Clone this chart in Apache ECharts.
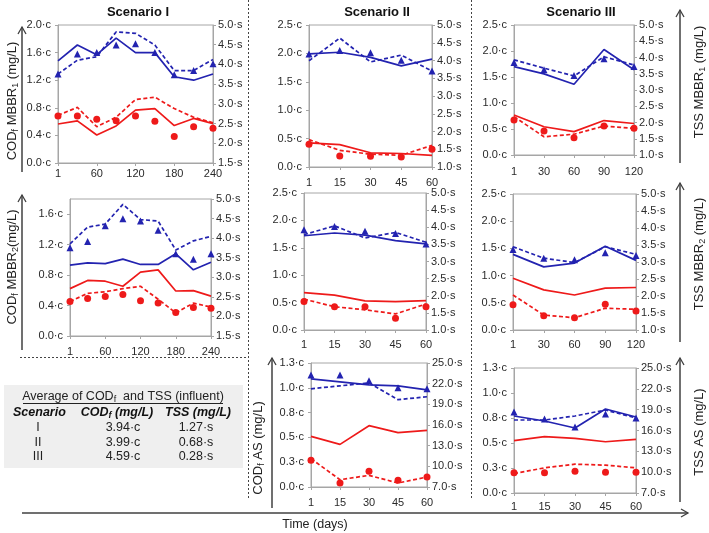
<!DOCTYPE html>
<html>
<head>
<meta charset="utf-8">
<script src="https://cdn.jsdelivr.net/npm/echarts@6/dist/echarts.min.js"></script>
<style>
    html, body { margin: 0; padding: 0; background: #fff; }
    #chart { width: 709px; height: 533px; }
</style>
</head>
<body>
<div id="chart"></div>
<script>
// x categories (days)
var daysI = ['1', '30', '60', '90', '120', '150', '180', '210', '240'];
var daysII = ['1', '15', '30', '45', '60'];
var daysIII = ['1', '30', '60', '90', '120'];
var daysAS = ['1', '15', '30', '45', '60'];

// tick labels for the AS right axes
var ticksAS = [7, 10, 13, 16, 19, 22, 25];

// Scenario I - MBBR1 (blue on left axis, red on right axis)
var blueLineI1 = [1.48, 1.71, 1.57, 1.81, 1.60, 1.60, 1.25, 1.20, 1.29];
var blueDashI1 = [1.29, 1.49, 1.54, 1.90, 1.88, 1.71, 1.34, 1.34, 1.50];
var blueTriI1  = [1.29, 1.58, 1.60, 1.71, 1.73, 1.60, 1.28, 1.34, 1.44];
var redLineI1  = [2.49, 2.57, 2.21, 2.44, 2.84, 2.88, 2.45, 2.63, 2.50];
var redDashI1  = [2.71, 2.91, 2.42, 2.66, 3.11, 3.17, 2.88, 2.66, 2.52];
var redDotI1   = [2.69, 2.69, 2.61, 2.57, 2.69, 2.56, 2.17, 2.42, 2.38];

// Scenario I - MBBR2
var blueLineI2 = [0.93, 0.96, 0.95, 1.01, 0.94, 0.94, 1.08, 0.87, 0.97];
var blueDashI2 = [1.21, 1.43, 1.47, 1.73, 1.53, 1.51, 1.13, 1.25, 1.31];
var blueTriI2  = [1.16, 1.24, 1.45, 1.54, 1.51, 1.39, 1.08, 1.01, 1.08];
var redLineI2  = [2.71, 2.92, 2.90, 2.77, 3.13, 3.19, 2.65, 2.66, 2.52];
var redDashI2  = [2.38, 2.59, 2.63, 2.71, 2.77, 2.44, 2.09, 2.34, 2.24];
var redDotI2   = [2.38, 2.46, 2.51, 2.56, 2.40, 2.34, 2.10, 2.23, 2.21];

// Scenario II - MBBR1
var blueLineII1 = [1.99, 2.02, 1.93, 1.78, 1.90];
var blueDashII1 = [1.87, 2.27, 1.85, 1.97, 1.69];
var blueTriII1  = [1.99, 2.05, 2.01, 1.88, 1.69];
var redLineII1  = [1.68, 1.63, 1.40, 1.38, 1.33];
var redDashII1  = [1.77, 1.47, 1.36, 1.33, 1.61];
var redDotII1   = [1.64, 1.31, 1.30, 1.28, 1.50];

// Scenario II - MBBR2
var blueLineII2 = [1.72, 1.77, 1.73, 1.63, 1.57];
var blueDashII2 = [1.74, 1.90, 1.68, 1.78, 1.60];
var blueTriII2  = [1.83, 1.89, 1.80, 1.76, 1.57];
var redLineII2  = [2.09, 2.02, 1.85, 1.83, 1.86];
var redDashII2  = [1.90, 1.68, 1.59, 1.47, 1.76];
var redDotII2   = [1.83, 1.68, 1.68, 1.34, 1.68];

// Scenario II - AS
var blueLineII3 = [1.09, 1.06, 1.03, 1.02, 0.98];
var blueDashII3 = [0.99, 1.02, 1.05, 0.88, 0.91];
var blueTriII3  = [1.13, 1.13, 1.07, 1.00, 0.99];
var redLineII3  = [14.35, 13.19, 15.90, 14.89, 15.23];
var redDashII3  = [11.11, 8.06, 8.69, 7.58, 8.45];
var redDotII3   = [10.87, 7.58, 9.27, 7.97, 8.45];

// Scenario III - MBBR1
var blueLineIII1 = [1.70, 1.56, 1.36, 2.03, 1.64];
var blueDashIII1 = [1.83, 1.67, 1.52, 1.89, 1.73];
var blueTriIII1  = [1.78, 1.64, 1.53, 1.85, 1.70];
var redLineIII1  = [2.23, 1.87, 1.72, 2.06, 1.97];
var redDashIII1  = [2.18, 1.56, 1.64, 1.89, 1.82];
var redDotIII1   = [2.08, 1.74, 1.53, 1.89, 1.82];

// Scenario III - MBBR2
var blueLineIII2 = [1.39, 1.16, 1.23, 1.54, 1.28];
var blueDashIII2 = [1.53, 1.32, 1.24, 1.53, 1.39];
var blueTriIII2  = [1.48, 1.32, 1.29, 1.42, 1.37];
var redLineIII2  = [2.52, 2.18, 2.03, 2.23, 2.25];
var redDashIII2  = [2.03, 1.44, 1.36, 1.64, 1.61];
var redDotIII2   = [1.74, 1.42, 1.36, 1.76, 1.56];

// Scenario III - AS
var blueLineIII3 = [0.77, 0.72, 0.65, 0.84, 0.76];
var blueDashIII3 = [0.73, 0.73, 0.77, 0.83, 0.75];
var blueTriIII3  = [0.81, 0.74, 0.66, 0.79, 0.75];
var redLineIII3  = [14.53, 15.11, 14.87, 14.38, 14.72];
var redDashIII3  = [9.80, 10.62, 11.15, 11.01, 10.62];
var redDotIII3   = [9.90, 9.90, 10.14, 9.99, 9.99];

// influent table
var tableScenario = ['I', 'II', 'III'];
var tableCod = ['3.94·c', '3.99·c', '4.59·c'];
var tableTss = ['1.27·s', '0.68·s', '0.28·s'];

var font = '"Liberation Sans", Arial, sans-serif';
var blue = '#2323b0', red = '#ee1a1a', frame = '#a6a6a6', ink = '#404040';

var panels = [
    {grid: {left: 58, top: 25, width: 155, height: 138}, days: daysI, every: 1, xm: 5,
     l: {min: 0, max: 2.0, step: 0.4}, r: {min: 1.5, max: 5.0, step: 0.5},
     data: [blueLineI1, blueDashI1, blueTriI1, redLineI1, redDashI1, redDotI1]},
    {grid: {left: 70, top: 199, width: 141, height: 137}, days: daysI, every: 1, xm: 10,
     l: {min: 0, max: 1.8, step: 0.4, hideMax: true}, r: {min: 1.5, max: 5.0, step: 0.5},
     data: [blueLineI2, blueDashI2, blueTriI2, redLineI2, redDashI2, redDotI2]},
    {grid: {left: 309, top: 25, width: 123, height: 142}, days: daysII, every: 0, xm: 10,
     l: {min: 0, max: 2.5, step: 0.5}, r: {min: 1.0, max: 5.0, step: 0.5},
     data: [blueLineII1, blueDashII1, blueTriII1, redLineII1, redDashII1, redDotII1]},
    {grid: {left: 304, top: 193, width: 122, height: 137}, days: daysII, every: 0, xm: 9,
     l: {min: 0, max: 2.5, step: 0.5}, r: {min: 1.0, max: 5.0, step: 0.5},
     data: [blueLineII2, blueDashII2, blueTriII2, redLineII2, redDashII2, redDotII2]},
    {grid: {left: 311, top: 363, width: 116, height: 124}, days: daysAS, every: 0, xm: 10,
     l: {min: 0, max: 1.25, step: 0.25}, r: {min: 7, max: 25, ticks: ticksAS},
     data: [blueLineII3, blueDashII3, blueTriII3, redLineII3, redDashII3, redDotII3]},
    {grid: {left: 514, top: 25, width: 120, height: 130}, days: daysIII, every: 0, xm: 11,
     l: {min: 0, max: 2.5, step: 0.5}, r: {min: 1.0, max: 5.0, step: 0.5},
     data: [blueLineIII1, blueDashIII1, blueTriIII1, redLineIII1, redDashIII1, redDotIII1]},
    {grid: {left: 513, top: 194, width: 123, height: 136}, days: daysIII, every: 0, xm: 9,
     l: {min: 0, max: 2.5, step: 0.5}, r: {min: 1.0, max: 5.0, step: 0.5},
     data: [blueLineIII2, blueDashIII2, blueTriIII2, redLineIII2, redDashIII2, redDotIII2]},
    {grid: {left: 514, top: 368, width: 122, height: 125}, days: daysAS, every: 0, xm: 8,
     l: {min: 0, max: 1.25, step: 0.25}, r: {min: 7, max: 25, ticks: ticksAS},
     data: [blueLineIII3, blueDashIII3, blueTriIII3, redLineIII3, redDashIII3, redDotIII3]}
];

function yAxisCfg(i, pos, r, unit) {
    var ax = {
        gridIndex: i, type: 'value', position: pos, min: r.min, max: r.max,
        splitLine: {show: false},
        axisLine: {show: true, lineStyle: {color: frame}},
        axisTick: {show: true, length: 3, lineStyle: {color: frame}},
        axisLabel: {fontSize: 11, color: '#2a2a2a', fontFamily: font, margin: pos == 'left' ? 7 : 5,
            formatter: function (v) { return v.toFixed(1) + unit; }}
    };
    if (r.hideMax) ax.axisLabel.showMaxLabel = false;
    if (r.ticks) {
        ax.axisLabel.customValues = r.ticks;
        ax.axisTick.customValues = r.ticks;
    } else {
        ax.interval = r.step;
    }
    return ax;
}

var option = {animation: false, grid: [], xAxis: [], yAxis: [], series: [], graphic: []};

panels.forEach(function (p, i) {
    option.grid.push(Object.assign({show: true, borderColor: frame, borderWidth: 1}, p.grid));
    option.xAxis.push({
        gridIndex: i, type: 'category', boundaryGap: false, data: p.days,
        axisLine: {lineStyle: {color: frame}},
        axisTick: {length: 3, lineStyle: {color: frame}},
        axisLabel: {interval: p.every, margin: p.xm, fontSize: 11, color: '#2a2a2a', fontFamily: font}
    });
    option.yAxis.push(yAxisCfg(i, 'left', p.l, '·c'));
    option.yAxis.push(yAxisCfg(i, 'right', p.r, '·s'));
    var ly = i * 2, ry = i * 2 + 1;
    option.series.push(
        {type: 'line', xAxisIndex: i, yAxisIndex: ly, data: p.data[0], symbol: 'none',
         lineStyle: {color: blue, width: 1.7}},
        {type: 'line', xAxisIndex: i, yAxisIndex: ly, data: p.data[1], symbol: 'none',
         lineStyle: {color: blue, width: 1.7, type: [4, 2.5]}},
        {type: 'scatter', xAxisIndex: i, yAxisIndex: ly, data: p.data[2], symbol: 'triangle',
         symbolSize: 7, itemStyle: {color: blue, opacity: 1}},
        {type: 'line', xAxisIndex: i, yAxisIndex: ry, data: p.data[3], symbol: 'none',
         lineStyle: {color: red, width: 1.7}},
        {type: 'line', xAxisIndex: i, yAxisIndex: ry, data: p.data[4], symbol: 'none',
         lineStyle: {color: red, width: 1.7, type: [4, 2.5]}},
        {type: 'scatter', xAxisIndex: i, yAxisIndex: ry, data: p.data[5], symbol: 'circle',
         symbolSize: 7, itemStyle: {color: red, opacity: 1}}
    );
});

// ---- decorations: titles, arrows, separators, table ----
var g = option.graphic;
var rich = {
    n: {fontSize: 13, fontFamily: font, fill: '#222'},
    s: {fontSize: 9, fontFamily: font, fill: '#222', padding: [7, 0, 0, 0]},
    bn: {fontSize: 12.5, fontFamily: font, fill: '#111', fontWeight: 'bold', fontStyle: 'italic'},
    bs: {fontSize: 9, fontFamily: font, fill: '#111', fontWeight: 'bold', fontStyle: 'italic', padding: [6, 0, 0, 0]},
    tn: {fontSize: 12.5, fontFamily: font, fill: '#222'},
    ts: {fontSize: 9, fontFamily: font, fill: '#222', padding: [6, 0, 0, 0]}
};

function txt(x, y, text, size, extra) {
    return Object.assign({type: 'text', x: x, y: y, z: 10, style: Object.assign({
        text: text, fontSize: size, fontFamily: font, fill: '#222', align: 'center', verticalAlign: 'middle'
    }, extra || {})});
}
function richTxt(x, y, text, rot) {
    return {type: 'text', x: x, y: y, rotation: rot || 0, z: 10,
        style: {text: text, rich: rich, align: 'center', verticalAlign: 'middle'}};
}
function seg(x1, y1, x2, y2, st) {
    return {type: 'line', z: 5, shape: {x1: x1, y1: y1, x2: x2, y2: y2}, style: st};
}
function arrowUp(x, yb, yt) {
    g.push(seg(x, yb, x, yt, {stroke: ink, lineWidth: 1.5}));
    g.push({type: 'polyline', z: 5, shape: {points: [[x - 4, yt + 7], [x, yt], [x + 4, yt + 7]]},
        style: {stroke: ink, lineWidth: 1.3, fill: 'none'}});
}

// scenario titles
g.push(txt(138, 12, 'Scenario I', 13, {fontWeight: 'bold', fill: '#111'}));
g.push(txt(377, 12, 'Scenario II', 13, {fontWeight: 'bold', fill: '#111'}));
g.push(txt(581, 12, 'Scenario III', 13, {fontWeight: 'bold', fill: '#111'}));

// y titles
var up = Math.PI / 2;
g.push(richTxt(12, 101, '{n|COD}{s|f}{n| MBBR}{s|1}{n| (mg/L)}', up));
g.push(richTxt(12, 267, '{n|COD}{s|f}{n| MBBR}{s|2}{n|(mg/L)}', up));
g.push(richTxt(258, 448, '{n|COD}{s|f}{n| AS (mg/L)}', up));
g.push(richTxt(699, 82, '{n|TSS MBBR}{s|1}{n| (mg/L)}', up));
g.push(richTxt(699, 254, '{n|TSS MBBR}{s|2}{n| (mg/L)}', up));
g.push(richTxt(699, 432, '{n|TSS AS (mg/L)}', up));

// vertical arrows
arrowUp(22, 172, 27);
arrowUp(22, 350, 195);
arrowUp(272, 508, 358);
arrowUp(680, 163, 10);
arrowUp(680, 342, 183);
arrowUp(680, 502, 358);

// time arrow
g.push(seg(22, 513, 688, 513, {stroke: ink, lineWidth: 1.5}));
g.push({type: 'polyline', z: 5, shape: {points: [[681, 509], [688, 513], [681, 517]]},
    style: {stroke: ink, lineWidth: 1.3, fill: 'none'}});
g.push(txt(315, 525, 'Time (days)', 12.5));

// dotted separators
var dots = {stroke: '#444', lineWidth: 1, lineDash: [2, 2]};
g.push(seg(248.5, 0, 248.5, 499, dots));
g.push(seg(471.5, 0, 471.5, 499, dots));
g.push(seg(20, 357.5, 248.5, 357.5, dots));

// influent table
g.push({type: 'rect', z: 1, shape: {x: 4, y: 385, width: 239, height: 83}, style: {fill: '#efefef'}});
g.push({type: 'text', x: 123, y: 397, z: 10,
    style: {text: '{tn|Average of COD}{ts|f}{tn|  and TSS (influent)}', rich: rich, align: 'center', verticalAlign: 'middle'}});
g.push(seg(23, 403.5, 223, 403.5, {stroke: '#222', lineWidth: 1}));
g.push({type: 'text', x: 13, y: 413, z: 10,
    style: {text: '{bn|Scenario}', rich: rich, align: 'left', verticalAlign: 'middle'}});
g.push({type: 'text', x: 117, y: 413, z: 10,
    style: {text: '{bn|COD}{bs|f}{bn| (mg/L)}', rich: rich, align: 'center', verticalAlign: 'middle'}});
g.push({type: 'text', x: 198, y: 413, z: 10,
    style: {text: '{bn|TSS (mg/L)}', rich: rich, align: 'center', verticalAlign: 'middle'}});
var rowY = [428, 442.5, 457];
tableScenario.forEach(function (s, k) {
    g.push(txt(38, rowY[k], s, 12.5));
    g.push(txt(123, rowY[k], tableCod[k], 12.5));
    g.push(txt(196, rowY[k], tableTss[k], 12.5));
});

var chart = echarts.init(document.getElementById('chart'));
chart.setOption(option);
</script>
</body>
</html>
